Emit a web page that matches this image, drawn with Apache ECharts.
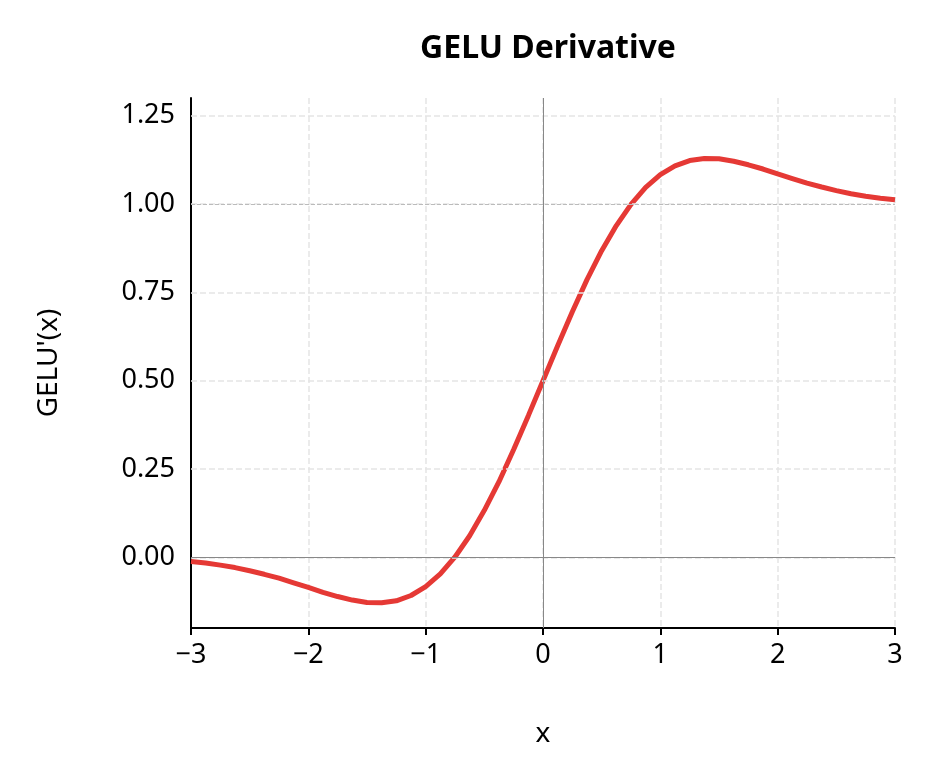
<!DOCTYPE html>
<html><head><meta charset="utf-8">
<script src="https://cdn.jsdelivr.net/npm/echarts@6/dist/echarts.min.js"></script>
<style>html,body{margin:0;background:#fff}#c{width:934px;height:784px}</style>
</head><body><div id="c"></div>
<script>
const xs = [-3,-2.875,-2.75,-2.625,-2.5,-2.375,-2.25,-2.125,-2,-1.875,-1.75,-1.625,-1.5,-1.375,-1.25,-1.125,-1,-0.875,-0.75,-0.625,-0.5,-0.375,-0.25,-0.125,0,0.125,0.25,0.375,0.5,0.625,0.75,0.875,1,1.125,1.25,1.375,1.5,1.625,1.75,1.875,2,2.125,2.25,2.375,2.5,2.625,2.75,2.875,3];
const ys = [-0.012,-0.016,-0.022,-0.029,-0.038,-0.048,-0.059,-0.072,-0.085,-0.099,-0.111,-0.121,-0.128,-0.1285,-0.123,-0.108,-0.083,-0.047,0.001,0.061,0.133,0.214,0.305,0.401,0.5,0.599,0.695,0.786,0.868,0.939,0.999,1.047,1.083,1.108,1.123,1.1285,1.128,1.121,1.111,1.099,1.085,1.072,1.059,1.048,1.038,1.029,1.022,1.016,1.012];
const yTicks = [0,0.25,0.5,0.75,1,1.25];
const data = xs.map((x,i)=>[x,ys[i]]);
const font = '"Source Sans Pro","Liberation Sans Narrow","Noto Sans",sans-serif';
const gridLines = yTicks.map(v=>({yAxis:v,lineStyle:{color:'#e5e5e5',type:'dashed',width:1.5}}));
gridLines.push({yAxis:0,lineStyle:{color:'#888',type:'solid',width:1}});
gridLines.push({yAxis:1,lineStyle:{color:'#bbb',type:'dashed',width:1}});
gridLines.push({xAxis:0,lineStyle:{color:'#888',type:'solid',width:1}});
const chart = echarts.init(document.getElementById('c'));
chart.setOption({
  animation:false,
  title:{text:'GELU Derivative',left:543,top:28,textAlign:'center',textStyle:{fontFamily:'"Noto Sans",sans-serif',fontSize:32,fontWeight:'bold',color:'#000'}},
  grid:{left:191,right:39,top:98,bottom:156},
  xAxis:{type:'value',min:-3,max:3,interval:1,name:'x',nameLocation:'middle',nameGap:92,
    nameTextStyle:{fontFamily:font,fontSize:28,color:'#000'},
    axisLine:{onZero:false,lineStyle:{color:'#000',width:2}},
    axisTick:{show:true,length:7,lineStyle:{color:'#000',width:2}},
    axisLabel:{fontFamily:font,fontSize:27,color:'#000',margin:14,formatter:v=>String(v).replace('-','\u2212')},
    splitLine:{show:true,lineStyle:{color:'#e5e5e5',type:'dashed',width:1.5}}},
  yAxis:{type:'value',min:-0.2,max:1.3,interval:0.05,name:"GELU'(x)",nameLocation:'middle',nameGap:128,
    nameTextStyle:{fontFamily:font,fontSize:28,color:'#000'},
    axisLine:{show:true,onZero:false,lineStyle:{color:'#000',width:2}},
    axisTick:{show:false},
    axisLabel:{fontFamily:font,fontSize:27,color:'#000',margin:16,
      formatter:v=>{const r=Math.round(v*100)/100; return yTicks.some(t=>Math.abs(t-r)<1e-6)?r.toFixed(2):'';}},
    splitLine:{show:false}},
  series:[{type:'line',data:data,smooth:false,showSymbol:false,
    lineStyle:{color:'#e53935',width:5},
    markLine:{silent:true,symbol:'none',label:{show:false},data:gridLines}}]
});
</script></body></html>
